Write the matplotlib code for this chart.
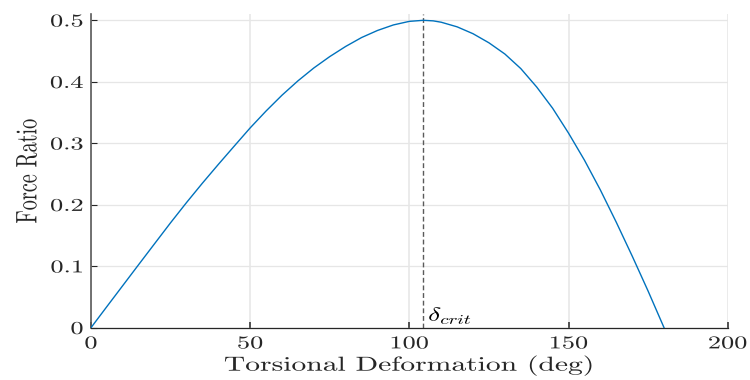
import matplotlib
matplotlib.use("Agg")
import matplotlib.pyplot as plt
from matplotlib.patheffects import AbstractPathEffect
from matplotlib.transforms import Affine2D

# curve values (deg, force ratio)
deformation = [0, 5, 10, 15, 20, 25, 30, 35, 40, 45, 50, 55, 60, 65, 70, 75,
               80, 85, 90, 95, 100, 104.4, 107.5, 110, 115, 120, 125, 130,
               135, 140, 145, 150, 155, 160, 165, 170, 175, 180]
force_ratio = [0, 0.0344, 0.0686, 0.1028, 0.1368, 0.1707, 0.2035, 0.2351,
               0.2656, 0.2954, 0.3250, 0.3525, 0.3782, 0.4015, 0.4225, 0.4410,
               0.4575, 0.4720, 0.4835, 0.4925, 0.4983, 0.5000, 0.4991, 0.4969,
               0.4894, 0.4782, 0.4634, 0.4452, 0.4215, 0.3915, 0.3570, 0.3165,
               0.2725, 0.2240, 0.1715, 0.1165, 0.0595, 0]
delta_crit = 104.4

xticks = [0, 50, 100, 150, 200]
xtick_labels = ['0', '50', '100', '150', '200']
yticks = [0, 0.1, 0.2, 0.3, 0.4, 0.5]
ytick_labels = ['0', '0.1', '0.2', '0.3', '0.4', '0.5']


class Widen(AbstractPathEffect):
    # the reference text is stretched sideways, widen the glyphs the same way
    def __init__(self, factor, anchor='center'):
        super().__init__()
        self.factor = factor
        self.anchor = anchor

    def draw_path(self, renderer, gc, tpath, affine, rgbFace=None):
        box = tpath.get_extents(affine)
        if self.anchor == 'left':
            cx = box.x0
        elif self.anchor == 'right':
            cx = box.x1
        else:
            cx = 0.5 * (box.x0 + box.x1)
        stretch = Affine2D().translate(-cx, 0).scale(self.factor, 1).translate(cx, 0)
        renderer.draw_path(gc, tpath, affine + stretch, rgbFace)


def main():
    plt.rcParams['font.family'] = ['cmr10', 'DejaVu Serif']
    plt.rcParams['mathtext.fontset'] = 'cm'
    plt.rcParams['axes.formatter.use_mathtext'] = True

    dark = '#262626'
    wide = 1.46
    fig = plt.figure(figsize=(7.5, 3.8), dpi=100)
    ax = fig.add_axes([0.1213, 0.1376, 0.8490, 0.8248])

    ax.plot(deformation, force_ratio, color='#0072BD', lw=1.0, zorder=3)
    ax.axvline(delta_crit, color='#5a5a5a', lw=1.0, ls=(0, (3.5, 2)), zorder=2)
    dtext = ax.text(delta_crit + 1.6, 0.003, r'$\delta_{crit}$', fontsize=13.5,
                    ha='left', va='bottom', color='black')
    dtext.set_path_effects([Widen(wide, 'left')])

    ax.set_xlim(0, 200)
    ax.set_ylim(0, 0.5098)
    ax.set_xticks(xticks)
    ax.set_xticklabels(xtick_labels)
    ax.set_yticks(yticks)
    ax.set_yticklabels(ytick_labels)

    ax.xaxis.grid(True, color='#e6e6e6', lw=1.1, zorder=0)
    ax.yaxis.grid(True, color='#e6e6e6', lw=0.9, zorder=0)
    ax.set_axisbelow(True)
    for side in ['top', 'right']:
        ax.spines[side].set_visible(False)
    ax.spines['left'].set_color('#5a5a5a')
    ax.spines['left'].set_linewidth(1.2)
    ax.spines['bottom'].set_color(dark)
    ax.spines['bottom'].set_linewidth(0.9)
    ax.tick_params(axis='x', direction='in', length=4.5, width=1.1, colors=dark,
                   labelsize=13, pad=6)
    ax.tick_params(axis='y', direction='in', length=4.5, width=0.8, colors=dark,
                   labelsize=13, pad=5.5)
    for lab in ax.get_xticklabels():
        lab.set_path_effects([Widen(wide, 'center')])
    for lab in ax.get_yticklabels():
        lab.set_path_effects([Widen(wide, 'right')])

    ax.set_xlabel('Torsional Deformation (deg)', fontsize=14.6, color=dark)
    ax.xaxis.set_label_coords(0.4995, -0.089)
    ax.xaxis.label.set_path_effects([Widen(wide, 'center')])
    ax.set_ylabel('Force Ratio', fontsize=14.6, color=dark)
    ax.yaxis.set_label_coords(-0.0843, 0.5)
    ax.yaxis.label.set_path_effects([Widen(wide, 'center')])

    fig.savefig('out.png', dpi=100)


if (__name__ == '__main__'):
    main()
